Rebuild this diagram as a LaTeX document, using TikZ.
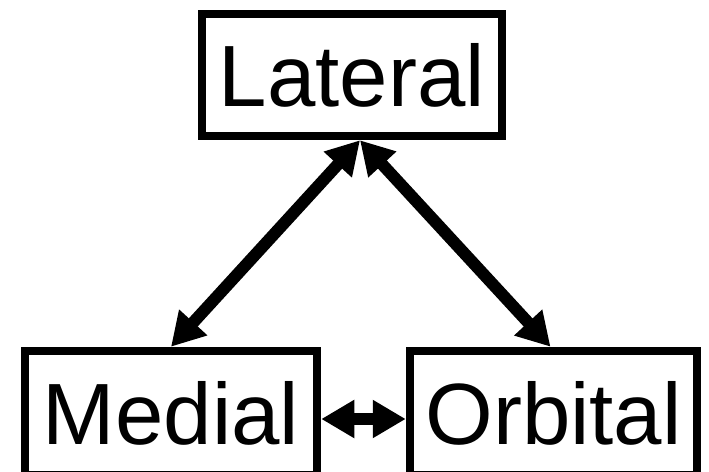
\documentclass[tikz,border=0pt]{standalone}
\usepackage{fontspec}
\setmainfont{Liberation Sans}
\usetikzlibrary{arrows.meta}
\begin{document}
\begin{tikzpicture}[x=1pt,y=-1pt,
  region/.style={draw=black, line width=8.5pt, rectangle, inner sep=0pt,
    minimum height=122pt, font=\fontsize{87}{90}\selectfont},
  link/.style={line width=12pt, {Triangle[length=33pt,width=36pt]}-{Triangle[length=33pt,width=36pt]}}]
  \useasboundingbox (0,0) rectangle (709,471);
  % the three boxes
  \node[region, minimum width=300pt] (lat) at (352,75) {Lateral};
  \node[region, minimum width=292pt, minimum height=124pt] (med) at (171,413) {Medial};
  \node[region, minimum width=287pt, minimum height=124pt] (orb) at (553.5,413) {Orbital};
  % two-way connections
  \draw[link] ([xshift=8pt]lat.south) -- (med.north);
  \draw[link] ([xshift=8pt]lat.south) -- ([xshift=-3pt]orb.north);
  \draw[link] ([yshift=-6pt]med.east) -- ([yshift=-6pt]orb.west);
\end{tikzpicture}
\end{document}
